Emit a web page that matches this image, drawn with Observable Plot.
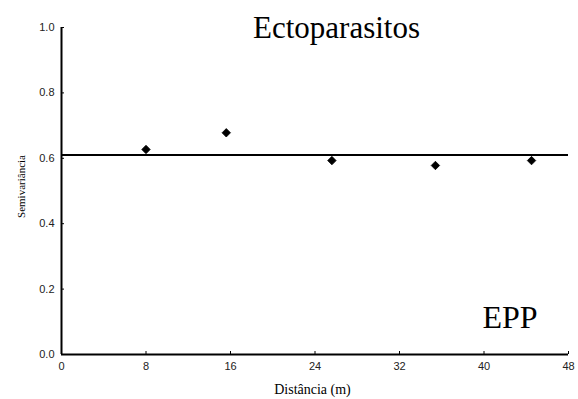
<!DOCTYPE html>
<html>
<head>
<meta charset="utf-8">
<script src="https://cdn.jsdelivr.net/npm/d3@7"></script>
<script src="https://cdn.jsdelivr.net/npm/@observablehq/plot@0.6"></script>
<style>
  html, body { margin: 0; padding: 0; background: #fff; }
  #chart svg { display: block; }
</style>
</head>
<body>
<div id="chart"></div>
<script>
// Experimental semivariogram: lag distance (m) vs semivariance
const distance = [8.0, 15.6, 25.6, 35.4, 44.5];
const semivariance = [0.627, 0.678, 0.593, 0.578, 0.593];
const sill = 0.61; // pure nugget model level

const xTicks = [0, 8, 16, 24, 32, 40, 48];
const yTicks = [0.0, 0.2, 0.4, 0.6, 0.8, 1.0];

const title = "Ectoparasitos";
const panelLabel = "EPP";
const xLabel = "Distância (m)";
const yLabel = "Semivariância";

const points = distance.map((d, i) => ({distance: d, semivariance: semivariance[i]}));

const sans = "Liberation Sans, Arial, sans-serif";
const serif = "Liberation Serif, Times New Roman, serif";

const chart = Plot.plot({
  width: 578,
  height: 399,
  marginLeft: 61,
  marginRight: 10,
  marginTop: 27,
  marginBottom: 45,
  style: {background: "#fff", color: "#000"},
  x: {domain: [0, 48]},
  y: {domain: [0, 1]},
  marks: [
    // axes with short inward ticks
    Plot.axisX(xTicks, {
      tickSize: -3, tickPadding: 11, tickFormat: d => String(d),
      fontFamily: sans, fontSize: 11, fill: "#222", label: null
    }),
    Plot.axisY(yTicks, {
      tickSize: -3, tickPadding: 10, tickFormat: d3.format(".1f"),
      fontFamily: sans, fontSize: 11, fill: "#222", label: null
    }),
    Plot.ruleX([0], {stroke: "#000", strokeWidth: 2}),
    Plot.ruleY([0], {stroke: "#000", strokeWidth: 2}),
    // fitted model line
    Plot.ruleY([sill], {stroke: "#000", strokeWidth: 2}),
    // experimental semivariances
    Plot.dot(points, {
      x: "distance", y: "semivariance",
      symbol: "diamond2", r: 3.8, fill: "#000", stroke: "#000", strokeWidth: 0.8
    }),
    // title and panel label
    Plot.text([title], {
      frameAnchor: "top", textAnchor: "middle", dx: 21.5, dy: 1, lineAnchor: "middle",
      fontFamily: serif, fontSize: 31, fill: "#000"
    }),
    Plot.text([panelLabel], {
      frameAnchor: "bottom-right", textAnchor: "middle", dx: -58.5, dy: -37, lineAnchor: "middle",
      fontFamily: serif, fontSize: 32, fill: "#000"
    }),
    // axis titles
    Plot.text([xLabel], {
      frameAnchor: "bottom", textAnchor: "middle", dx: -2.5, dy: 35, lineAnchor: "middle",
      fontFamily: serif, fontSize: 14, fill: "#000"
    }),
    Plot.text([yLabel], {
      frameAnchor: "left", textAnchor: "middle", dx: -40, dy: -4.5, rotate: -90, lineAnchor: "middle",
      fontFamily: serif, fontSize: 11, fill: "#000"
    })
  ]
});

document.getElementById("chart").appendChild(chart);
</script>
</body>
</html>
